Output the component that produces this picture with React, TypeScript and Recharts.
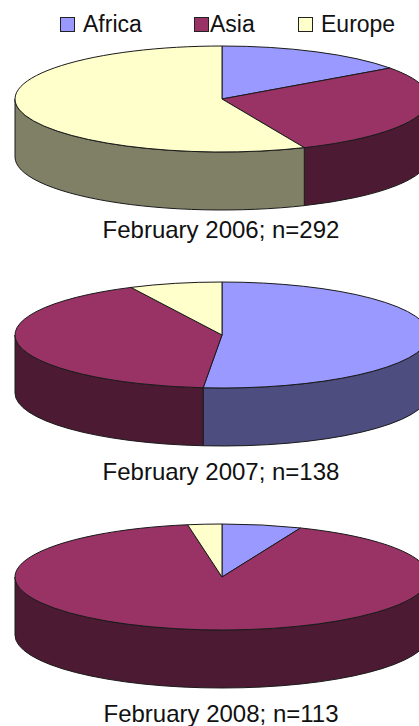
import React from "react";
import { PieChart, Pie, Cell, Tooltip } from "recharts";

// regions shown in every pie, in drawing order (clockwise from 12 o'clock)
const regions = ["Africa", "Asia", "Europe"];
const colors = ["#9999FF", "#993366", "#FFFFCC"];

// counts per region
const feb2006 = [44, 83, 165];
const feb2007 = [71, 57, 10];
const feb2008 = [7, 103, 3];

const captions = ["February 2006; n=292", "February 2007; n=138", "February 2008; n=113"];

const FONT = '"Liberation Sans", Arial, sans-serif';
const W = 419;
const H = 726;
const TILT = 0.256; // vertical squash of the top face
const DEPTH = 58;

function toRows(values: number[]) {
  return regions.map((name, i) => ({ name, value: values[i] }));
}

function shade(hex: string, k: number) {
  const n = parseInt(hex.slice(1), 16);
  const r = Math.round(((n >> 16) & 255) * k);
  const g = Math.round(((n >> 8) & 255) * k);
  const b = Math.round((n & 255) * k);
  return `rgb(${r},${g},${b})`;
}

// draws one sector as a slice of a tilted 3D disc
function Slice3D(props: any) {
  const { cx, cy, outerRadius, startAngle, endAngle, fill } = props;
  const rx = outerRadius;
  const ry = outerRadius * TILT;
  const hi = Math.max(startAngle, endAngle);
  const lo = Math.min(startAngle, endAngle);
  const pt = (a: number, dy = 0) => {
    const r = (a * Math.PI) / 180;
    return `${cx + rx * Math.cos(r)},${cy - ry * Math.sin(r) + dy}`;
  };
  const big = hi - lo > 180 ? 1 : 0;
  const top = `M${cx},${cy} L${pt(hi)} A${rx},${ry} 0 ${big} 1 ${pt(lo)} Z`;

  // outer wall is only visible on the front half (-180..0)
  let side = null;
  const s0 = Math.min(hi, 0);
  const s1 = Math.max(lo, -180);
  if (s0 > s1) {
    const sb = s0 - s1 > 180 ? 1 : 0;
    const d =
      `M${pt(s0)} A${rx},${ry} 0 ${sb} 1 ${pt(s1)} ` +
      `L${pt(s1, DEPTH)} A${rx},${ry} 0 ${sb} 0 ${pt(s0, DEPTH)} Z`;
    side = <path d={d} fill={shade(fill, 0.5)} stroke="#1a1a1a" strokeWidth={1} strokeLinejoin="round" />;
  }
  return (
    <g>
      {side}
      <path d={top} fill={fill} stroke="#1a1a1a" strokeWidth={1} strokeLinejoin="round" />
    </g>
  );
}

const pies = [
  { data: toRows(feb2006), cy: 99, caption: captions[0], captionTop: 218 },
  { data: toRows(feb2007), cy: 335, caption: captions[1], captionTop: 460 },
  { data: toRows(feb2008), cy: 577, caption: captions[2], captionTop: 702 },
];

const legendPos = [
  { box: 60, text: 83 },
  { box: 194, text: 210 },
  { box: 298, text: 321 },
];

export default function App() {
  return (
    <div style={{ position: "absolute", left: 0, top: 0, width: W, height: H, overflow: "hidden", background: "#fff", fontFamily: FONT }}>
      <PieChart width={W} height={H} margin={{ top: 0, right: 0, bottom: 0, left: 0 }}>
        <Tooltip defaultIndex={0} content={() => null} />
        {pies.map((p, k) => (
          <Pie
            key={k}
            data={p.data}
            dataKey="value"
            nameKey="name"
            cx={222}
            cy={p.cy}
            outerRadius={207}
            startAngle={90}
            endAngle={-270}
            label={false}
            labelLine={false}
            isAnimationActive={false}
            shape={Slice3D}
            activeShape={Slice3D}
            inactiveShape={Slice3D}
          >
            {p.data.map((d, i) => (
              <Cell key={d.name} fill={colors[i]} />
            ))}
          </Pie>
        ))}
      </PieChart>

      {regions.map((r, i) => (
        <React.Fragment key={r}>
          <div
            style={{
              position: "absolute",
              left: legendPos[i].box,
              top: 17,
              width: 13,
              height: 13,
              background: colors[i],
              border: "1px solid #222",
            }}
          />
          <div style={{ position: "absolute", left: legendPos[i].text, top: 13, fontSize: 23, lineHeight: "23px", color: "#111" }}>{r}</div>
        </React.Fragment>
      ))}

      {pies.map((p) => (
        <div
          key={p.caption}
          style={{ position: "absolute", left: 0, width: 442, top: p.captionTop, textAlign: "center", fontSize: 24, lineHeight: "24px", color: "#111" }}
        >
          {p.caption}
        </div>
      ))}
    </div>
  );
}
